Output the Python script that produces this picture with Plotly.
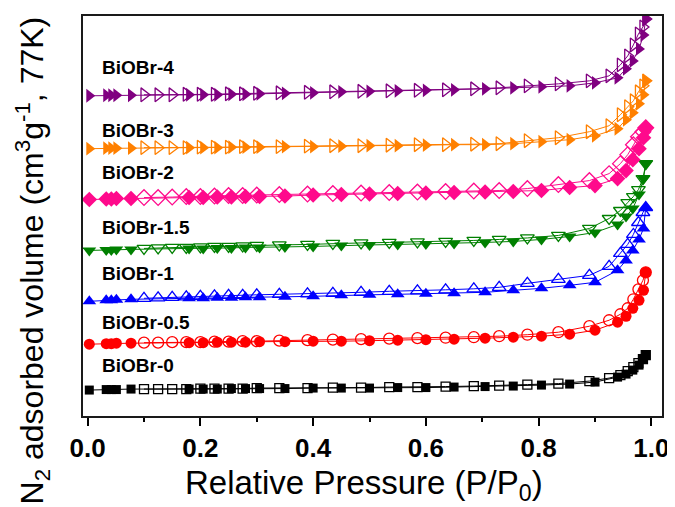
import plotly.graph_objects as go

# Relative pressure grids (P/P0)
ads_p = [0.003, 0.033, 0.042, 0.051, 0.077, 0.18, 0.205, 0.23, 0.255, 0.28, 0.305,
         0.35, 0.40, 0.45, 0.50, 0.55, 0.60, 0.65, 0.705, 0.755, 0.805, 0.855, 0.90,
         0.94, 0.955, 0.967, 0.978, 0.986, 0.99]
des_p = [0.10, 0.125, 0.15, 0.175, 0.20, 0.225, 0.25, 0.275, 0.30, 0.34, 0.39, 0.435,
         0.485, 0.535, 0.585, 0.635, 0.685, 0.73, 0.78, 0.835, 0.89, 0.925, 0.945,
         0.958, 0.968, 0.977, 0.985, 0.99]

# Stacked (offset) adsorbed volumes, arbitrary units
ads_0 = [26, 26.5, 26.5, 26.5, 27, 27, 27, 27, 27.5, 27.5, 27.5, 27.5, 28, 28, 28, 28.5,
         28.5, 29, 29.5, 30, 31, 32, 34, 39, 42, 46, 51, 57, 61]
des_0 = [27, 27, 27, 27, 27.5, 27.5, 27.5, 27.5, 28, 28, 28, 28.5, 28.5, 29, 29, 29.5, 30,
         30.5, 31.5, 32.5, 35, 38, 41, 45, 49, 53, 57, 61]

ads_05 = [72, 72.5, 72.5, 73, 73, 73.5, 73.5, 74, 74, 74, 74.5, 74.5, 75, 75, 75.5, 76,
          76.5, 77, 78, 79, 80, 82, 86, 94, 100, 108, 116, 126, 144]
des_05 = [73.5, 73.5, 74, 74, 74, 74.5, 74.5, 75, 75, 75.5, 76, 76.5, 77, 77.5, 78, 78.5, 79,
          80, 81.5, 84, 90, 96, 102, 108, 117, 127, 136, 144]

ads_1 = [115, 116, 116, 116.5, 117, 118, 118, 118.5, 118.5, 119, 119, 119.5, 120, 121,
         121.5, 122, 122.5, 123, 124, 126, 128, 131, 134, 146, 156, 166, 177, 188, 209]
des_1 = [118, 118.5, 119, 119.5, 120, 120.5, 121, 121, 121.5, 122, 122.5, 123, 124, 125, 125.5,
         126.5, 127.5, 129, 133, 137, 141, 150, 163, 172, 182, 194, 204, 209]

ads_15 = [166, 166.5, 166.5, 167, 167, 168, 168, 168.5, 168.5, 169, 169, 169.5, 170, 171,
          171.5, 172, 172.5, 173, 174, 175, 177, 180, 184, 192, 200, 208, 222, 238, 253]
des_15 = [168, 168.5, 169, 169, 169.5, 170, 170, 170.5, 171, 171.5, 172, 173, 173.5, 174, 174.5,
          175, 176, 177, 178.5, 181, 188, 198, 206, 214, 220, 227, 238, 253]

ads_2 = [217, 217.5, 217.5, 218, 218, 219, 219, 219.5, 219.5, 220, 220, 220.5, 221.5, 222,
         222.5, 223, 223.5, 224, 224.5, 225, 226, 229, 231, 238, 246, 257, 268, 279, 289]
des_2 = [219, 219, 219.5, 220, 220, 220.5, 221, 221, 221.5, 222, 222.5, 223, 223.5, 224, 224.5,
         225, 225.5, 226, 228, 232, 236, 243, 253, 262, 272, 280, 285, 289]

ads_3 = [268, 268.5, 268.5, 268.5, 268.5, 269, 269, 269, 269.5, 269.5, 269.5, 270, 270,
         270.5, 271, 271, 271.5, 272, 272, 273, 275, 277, 281, 288, 297, 304, 313, 322, 336]
des_3 = [269, 269, 269, 269, 269.5, 269.5, 269.5, 270, 270, 270, 270.5, 271, 271, 271.5, 272,
         272, 272.5, 273, 276, 279, 285, 291, 302, 310, 316, 325, 331, 336]

ads_4 = [321, 321.5, 321.5, 321.5, 321.5, 322, 322, 322, 322.5, 322.5, 323, 323.5, 324,
         325, 325.5, 326, 326.5, 327, 328, 329, 330, 331, 334, 339, 348, 356, 368, 382, 398]
des_4 = [322, 322, 322, 322.5, 322.5, 322.5, 323, 323, 323.5, 324, 324.5, 325, 325.5, 326, 326.5,
         327, 328, 329, 331, 333, 336, 341, 352, 361, 372, 383, 390, 398]

samples = ["BiOBr-0", "BiOBr-0.5", "BiOBr-1", "BiOBr-1.5", "BiOBr-2", "BiOBr-3", "BiOBr-4"]
label_y = [51, 94, 143, 189, 244, 286, 349]
ads_all = [ads_0, ads_05, ads_1, ads_15, ads_2, ads_3, ads_4]
des_all = [des_0, des_05, des_1, des_15, des_2, des_3, des_4]
colors = ["#000000", "#FF0000", "#0000FF", "#008000", "#FF0A8C", "#FF8000", "#800080"]
symbols = ["square", "circle", "triangle-up", "triangle-down", "diamond", "triangle-right", "triangle-right"]
sizes = [9, 11, 12, 12, 12, 12, 12]

FONT = "Liberation Sans, Arial, sans-serif"

fig = go.Figure()
for name, ya, yd, c, s, sz in zip(samples, ads_all, des_all, colors, symbols, sizes):
    fig.add_trace(go.Scatter(
        x=des_p, y=yd, mode="lines+markers", name=name + " desorption",
        line=dict(color=c, width=1),
        marker=dict(symbol=s + "-open", size=sz, color=c, line=dict(color=c, width=1.3)),
        showlegend=False))
    fig.add_trace(go.Scatter(
        x=ads_p, y=ya, mode="lines+markers", name=name + " adsorption",
        line=dict(color=c, width=1),
        marker=dict(symbol=s, size=sz, color=c, line=dict(width=0)),
        showlegend=False))

annotations = []
for name, ly in zip(samples, label_y):
    annotations.append(dict(x=0.029, xref="paper", y=ly, yref="y", text="<b>" + name + "</b>",
                            showarrow=False, xanchor="left", yanchor="middle",
                            font=dict(family=FONT, size=19, color="#000000")))
annotations.append(dict(x=0.485, xref="paper", y=-0.172, yref="paper",
                        text="Relative Pressure (P/P<sub>0</sub>)", showarrow=False,
                        xanchor="center", yanchor="middle",
                        font=dict(family=FONT, size=33, color="#000000")))
annotations.append(dict(x=-0.088, xref="paper", y=0.389, yref="paper", textangle=-90,
                        text="N<sub>2</sub> adsorbed volume (cm<sup>3</sup>g<sup>-1</sup>, 77K)",
                        showarrow=False, xanchor="center", yanchor="middle",
                        font=dict(family=FONT, size=32, color="#000000")))

# page body has an 8px default margin, so the figure is sized/offset to compensate
fig.update_layout(
    width=667, height=499,
    margin=dict(l=75, r=6, t=7, b=91),
    paper_bgcolor="white", plot_bgcolor="white",
    annotations=annotations,
    xaxis=dict(range=[-0.0082, 1.0188], tickmode="array",
               tickvals=[0.0, 0.2, 0.4, 0.6, 0.8, 1.0],
               ticktext=["0.0", "0.2", "0.4", "0.6", "0.8", "1.0"],
               ticks="outside", ticklen=8, tickwidth=1.6, tickcolor="#000000",
               minor=dict(tickvals=[0.1, 0.3, 0.5, 0.7, 0.9], ticks="outside", ticklen=4,
                          tickwidth=1.6, tickcolor="#000000"),
               showline=True, linewidth=1.6, linecolor="#1a1a1a", mirror=True,
               showgrid=False, zeroline=False,
               tickfont=dict(family=FONT, size=26, color="#000000", weight="bold")),
    yaxis=dict(range=[0, 401], showticklabels=False, ticks="",
               showline=True, linewidth=1.6, linecolor="#1a1a1a", mirror=True,
               showgrid=False, zeroline=False),
)

fig.write_html("out.html")
